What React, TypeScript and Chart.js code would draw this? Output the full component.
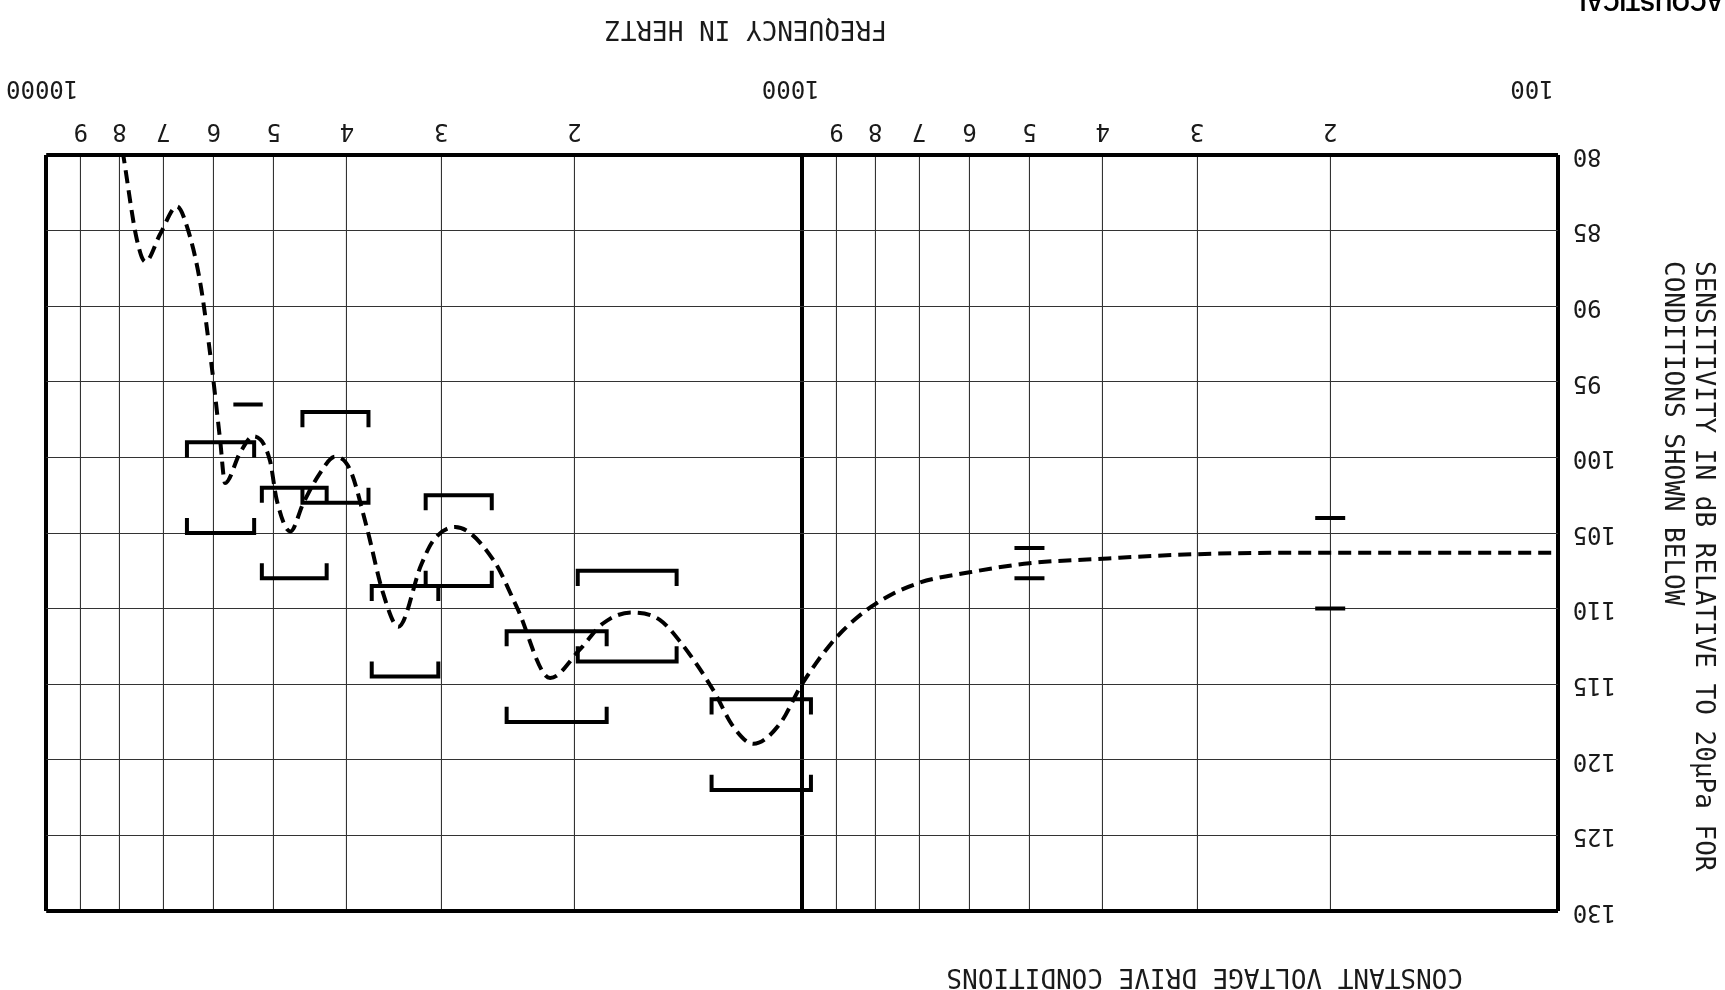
import React, { useEffect, useRef } from 'react';
import { Chart, registerables } from 'chart.js';

Chart.register(...registerables);

// Response curve (frequency in Hz, sensitivity in dB)
const CURVE_FREQ = [102, 200, 300, 400, 500, 600, 700, 800, 900, 1000, 1069, 1159, 1233, 1310, 1449, 1542, 1680, 1832, 1967, 2154, 2384, 2559, 2877, 3075, 3190, 3420, 3582, 3767, 3963, 4150, 4344, 4567, 4753, 4955, 5058, 5322, 5541, 5798, 5888, 6039, 6252, 6515, 6714, 7063, 7391, 7586, 7907];
const CURVE_DB = [106.3, 106.3, 106.4, 106.7, 107.0, 107.6, 108.3, 109.7, 111.9, 115.0, 117.6, 118.95, 117.8, 115.4, 112.2, 110.75, 110.26, 110.97, 112.7, 114.6, 109.9, 106.8, 104.6, 105.5, 107.1, 111.2, 109.0, 104.6, 100.8, 99.95, 101.05, 103.0, 104.9, 102.8, 100.2, 98.6, 99.7, 101.7, 98.8, 94.0, 88.5, 84.7, 83.4, 85.2, 87.05, 85.6, 80.0];

// Tolerance brackets: band edges (Hz) and limits (dB)
const BAND_LOW = [973, 1465, 1813, 2573, 3028, 3746, 4255, 5307];
const BAND_HIGH = [1317, 1980, 2459, 3147, 3709, 4581, 5184, 6513];
const LIMIT_LOW_DB = [116.0, 107.5, 111.5, 102.5, 108.5, 97.0, 102.0, 99.0];
const LIMIT_HIGH_DB = [122.0, 113.5, 117.5, 108.5, 114.5, 103.0, 108.0, 105.0];
const BRACKET_TICK_DB = 1;

// Single limit line
const SINGLE_FREQ = [5170, 5654];
const SINGLE_DB = [96.5, 96.5];

// Point markers
const MARK_FREQ = [200, 200, 500, 500];
const MARK_DB = [104, 110, 106, 108];

// Axes
const X_TICKS = [100, 200, 300, 400, 500, 600, 700, 800, 900, 1000, 2000, 3000, 4000, 5000, 6000, 7000, 8000, 9000, 10000];
const X_MAJOR = [100, 1000, 10000];
const X_MAJOR_LABELS = ['   100', ' 1000', '10000'];
const Y_TICKS = [80, 85, 90, 95, 100, 105, 110, 115, 120, 125, 130];

const TITLE_X = 'FREQUENCY IN HERTZ';
const TITLE_Y1 = 'SENSITIVITY IN dB RELATIVE TO 20\u00B5Pa FOR';
const TITLE_Y2 = 'CONDITIONS SHOWN BELOW';
const SUBTITLE = 'CONSTANT VOLTAGE DRIVE CONDITIONS';
const CORNER = 'ACOUSTICAL';

const MONO = '"DejaVu Sans Mono", "Liberation Mono", monospace';
const INK = '#1a1a1a';

const textPlugin = {
  id: 'texts',
  afterDraw(chart: any) {
    const ctx = chart.ctx;
    ctx.save();
    ctx.fillStyle = INK;
    ctx.font = `26px ${MONO}`;
    ctx.textBaseline = 'middle';
    ctx.textAlign = 'center';
    ctx.fillText(TITLE_X, 979, 962.5);
    ctx.textAlign = 'left';
    ctx.fillText(SUBTITLE, 262, 14.5);
    ctx.save();
    ctx.translate(22, 729);
    ctx.rotate(-Math.PI / 2);
    ctx.fillText(TITLE_Y1, 0, 0);
    ctx.restore();
    ctx.save();
    ctx.translate(53, 729);
    ctx.rotate(-Math.PI / 2);
    ctx.fillText(TITLE_Y2, 0, 0);
    ctx.restore();
    ctx.font = 'bold 23px "Liberation Sans", Arial, sans-serif';
    ctx.fillStyle = '#000';
    ctx.textBaseline = 'top';
    ctx.fillText(CORNER, 2, 978);
    ctx.restore();
  },
};

function bracketData(lo: number, hi: number, level: number, dir: number) {
  return [
    { x: lo, y: level + dir * BRACKET_TICK_DB },
    { x: lo, y: level },
    { x: hi, y: level },
    { x: hi, y: level + dir * BRACKET_TICK_DB },
  ];
}

export default function App() {
  const ref = useRef<HTMLCanvasElement>(null);
  useEffect(() => {
    if (!ref.current) return;
    const lineStyle = {
      type: 'line' as const,
      borderColor: '#000',
      borderWidth: 4,
      pointRadius: 0,
      tension: 0,
      fill: false,
      borderCapStyle: 'butt' as const,
      borderJoinStyle: 'miter' as const,
    };
    const datasets: any[] = [];
    datasets.push({
      ...lineStyle,
      data: CURVE_FREQ.map((f, i) => ({ x: f, y: CURVE_DB[i] })),
      borderDash: [13, 7],
      cubicInterpolationMode: 'monotone',
    });
    BAND_LOW.forEach((lo, i) => {
      datasets.push({ ...lineStyle, data: bracketData(lo, BAND_HIGH[i], LIMIT_LOW_DB[i], 1) });
      datasets.push({ ...lineStyle, data: bracketData(lo, BAND_HIGH[i], LIMIT_HIGH_DB[i], -1) });
    });
    datasets.push({ ...lineStyle, data: SINGLE_FREQ.map((f, i) => ({ x: f, y: SINGLE_DB[i] })) });
    datasets.push({
      type: 'scatter',
      data: MARK_FREQ.map((f, i) => ({ x: f, y: MARK_DB[i] })),
      pointStyle: 'line',
      pointRadius: 15,
      borderWidth: 4,
      borderColor: '#000',
      backgroundColor: '#000',
    });

    const isHeavy = (v: number, heavy: number[]) => heavy.includes(v);
    const X_HEAVY = [100, 1000, 10000];
    const Y_HEAVY = [80, 130];

    const chart = new Chart(ref.current, {
      type: 'line',
      data: { datasets },
      plugins: [textPlugin],
      options: {
        animation: false,
        responsive: false,
        devicePixelRatio: 1,
        layout: { padding: { left: 0, right: 46.2, top: 79.1, bottom: 0 } },
        plugins: { legend: { display: false }, tooltip: { enabled: false }, title: { display: false } },
        scales: {
          x: {
            type: 'logarithmic',
            min: 100,
            max: 10000,
            position: 'bottom',
            weight: 0,
            afterBuildTicks: (s: any) => {
              s.ticks = X_TICKS.map((v) => ({ value: v }));
            },
            afterFit: (s: any) => {
              s.height = 45;
            },
            grid: {
              color: (c: any) => (isHeavy(c.tick?.value, X_HEAVY) ? '#000' : '#333'),
              lineWidth: (c: any) => (isHeavy(c.tick?.value, X_HEAVY) ? 4 : 1.1),
              drawTicks: false,
            },
            border: { display: false },
            ticks: {
              autoSkip: false,
              maxRotation: 0,
              minRotation: 0,
              padding: 10,
              color: INK,
              font: { family: MONO, size: 24 },
              callback: (v: any) => {
                const n = Number(v);
                if (X_MAJOR.includes(n)) return '';
                return String(Math.round(n / Math.pow(10, Math.floor(Math.log10(n) + 1e-9))));
              },
            },
          },
          x2: {
            type: 'logarithmic',
            min: 100,
            max: 10000,
            position: 'bottom',
            weight: 1,
            afterBuildTicks: (s: any) => {
              s.ticks = X_MAJOR.map((v) => ({ value: v }));
            },
            afterFit: (s: any) => {
              s.height = 110.1;
            },
            grid: { display: false, drawTicks: false },
            border: { display: false },
            ticks: {
              autoSkip: false,
              maxRotation: 0,
              minRotation: 0,
              padding: 8,
              labelOffset: 4,
              color: INK,
              font: { family: MONO, size: 24 },
              callback: (v: any) => X_MAJOR_LABELS[X_MAJOR.indexOf(Number(v))],
            },
          },
          y: {
            type: 'linear',
            min: 80,
            max: 130,
            position: 'left',
            afterBuildTicks: (s: any) => {
              s.ticks = Y_TICKS.map((v) => ({ value: v }));
            },
            afterFit: (s: any) => {
              s.width = 167.3;
            },
            grid: {
              color: (c: any) => (isHeavy(c.tick?.value, Y_HEAVY) ? '#000' : '#333'),
              lineWidth: (c: any) => (isHeavy(c.tick?.value, Y_HEAVY) ? 4 : 1.1),
              drawTicks: false,
            },
            border: { display: false },
            ticks: {
              padding: 15,
              color: INK,
              font: { family: MONO, size: 24 },
              callback: (v: any) => String(v),
            },
          },
        },
      },
    } as any);
    return () => chart.destroy();
  }, []);

  return (
    <div
      style={{
        position: 'fixed',
        left: 0,
        top: 0,
        width: 1725,
        height: 990,
        background: '#fff',
        transform: 'rotate(180deg)',
      }}
    >
      <canvas ref={ref} width={1725} height={990} style={{ display: 'block' }} />
    </div>
  );
}
